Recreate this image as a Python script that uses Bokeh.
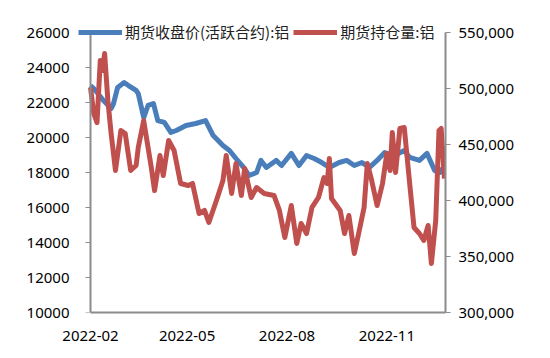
from datetime import datetime
from bokeh.plotting import figure
from bokeh.models import (Range1d, LinearAxis, FixedTicker, NumeralTickFormatter,
                          DatetimeTickFormatter, Legend, LegendItem, ColumnDataSource)
from bokeh.embed import file_html
from bokeh.resources import INLINE

price_dates = ["2022-02-01", "2022-02-04", "2022-02-07", "2022-02-13", "2022-02-20", "2022-02-22",
               "2022-02-26", "2022-03-04", "2022-03-08", "2022-03-15", "2022-03-17", "2022-03-22",
               "2022-03-26", "2022-03-31", "2022-04-04", "2022-04-10", "2022-04-16", "2022-04-21",
               "2022-04-30", "2022-05-09", "2022-05-18", "2022-05-25", "2022-06-03", "2022-06-09",
               "2022-06-15", "2022-06-22", "2022-06-27", "2022-07-04", "2022-07-08", "2022-07-13",
               "2022-07-22", "2022-07-27", "2022-08-05", "2022-08-12", "2022-08-19", "2022-08-26",
               "2022-09-02", "2022-09-09", "2022-09-18", "2022-09-25", "2022-10-02", "2022-10-09",
               "2022-10-16", "2022-10-23", "2022-10-30", "2022-11-08", "2022-11-17", "2022-11-22",
               "2022-12-01", "2022-12-08", "2022-12-15", "2022-12-20", "2022-12-23"]
price_vals = [22970, 22800, 22570, 22110, 21660, 21890,
              22860, 23140, 22970, 22690, 22510, 21140,
              21830, 21940, 20970, 20860, 20290, 20400,
              20690, 20800, 20970, 20110, 19540, 19260,
              18800, 18290, 17830, 18000, 18690, 18290,
              18690, 18400, 19090, 18400, 18970, 18800,
              18570, 18290, 18570, 18690, 18400, 18570,
              18290, 18690, 19140, 18970, 19260, 18860,
              18690, 19090, 18110, 18000, 18290]

oi_dates = ["2022-02-01", "2022-02-04", "2022-02-07", "2022-02-10", "2022-02-12", "2022-02-14",
            "2022-02-17", "2022-02-20", "2022-02-24", "2022-03-01", "2022-03-05", "2022-03-10",
            "2022-03-15", "2022-03-17", "2022-03-22", "2022-03-29", "2022-04-01", "2022-04-06",
            "2022-04-09", "2022-04-14", "2022-04-19", "2022-04-25", "2022-05-02", "2022-05-06",
            "2022-05-12", "2022-05-17", "2022-05-21", "2022-05-28", "2022-06-03", "2022-06-06",
            "2022-06-11", "2022-06-15", "2022-06-20", "2022-06-23", "2022-06-29", "2022-07-04",
            "2022-07-11", "2022-07-20", "2022-07-25", "2022-07-30", "2022-08-05", "2022-08-10",
            "2022-08-14", "2022-08-19", "2022-08-24", "2022-08-30", "2022-09-04", "2022-09-07",
            "2022-09-09", "2022-09-11", "2022-09-19", "2022-09-23", "2022-09-27", "2022-10-02",
            "2022-10-06", "2022-10-11", "2022-10-14", "2022-10-18", "2022-10-23", "2022-10-28",
            "2022-11-01", "2022-11-04", "2022-11-06", "2022-11-09", "2022-11-13", "2022-11-17",
            "2022-11-22", "2022-11-26", "2022-12-01", "2022-12-05", "2022-12-09", "2022-12-12",
            "2022-12-16", "2022-12-19", "2022-12-21", "2022-12-24"]
oi_vals = [500900, 477700, 469600, 525000, 516000, 531300,
           489300, 459800, 426800, 462500, 459800, 426800,
           431300, 447300, 471400, 429500, 408900, 440200,
           422300, 453600, 444600, 415200, 413400, 415200,
           388400, 391100, 380400, 400000, 417900, 440200,
           406300, 433000, 404500, 428600, 402700, 411600,
           406300, 404500, 391100, 367000, 395500, 361600,
           379500, 370500, 393800, 402700, 420500, 415200,
           437500, 401800, 391100, 370500, 386600, 352700,
           370500, 393800, 433000, 417900, 395500, 415200,
           442000, 426800, 460700, 425000, 464300, 465200,
           415200, 375900, 370500, 364300, 377700, 343800,
           382100, 462500, 464300, 419600]

left_ticks = [10000, 12000, 14000, 16000, 18000, 20000, 22000, 24000, 26000]
right_ticks = [300000, 350000, 400000, 450000, 500000, 550000]
x_tick_dates = ["2022-02-01", "2022-05-01", "2022-08-01", "2022-11-01"]
x_start, x_end = "2022-02-01", "2022-12-25"
labels = ["期货收盘价(活跃合约):铝", "期货持仓量:铝"]

def to_dt(s):
    return datetime.strptime(s, "%Y-%m-%d")

def to_ms(s):
    return (to_dt(s) - datetime(1970, 1, 1)).total_seconds() * 1000.0

# layout in pixels
W, H = 548, 356
axis_left_px, axis_right_px = 90, 445
axis_top_px, axis_bottom_px = 32, 312
frame_left_px, frame_top_px = 70, 14

# extend ranges so that the legend fits inside the frame; axes are bounded to the data extent
x0, x1 = to_ms(x_start), to_ms(x_end)
ms_per_px = (x1 - x0) / (axis_right_px - axis_left_px)
xr = Range1d(x0 - (axis_left_px - frame_left_px) * ms_per_px, x1)
ly_per_px = (left_ticks[-1] - left_ticks[0]) / (axis_bottom_px - axis_top_px)
ry_per_px = (right_ticks[-1] - right_ticks[0]) / (axis_bottom_px - axis_top_px)
extra_px = axis_top_px - frame_top_px
yr = Range1d(left_ticks[0], left_ticks[-1] + extra_px * ly_per_px)
yr2 = Range1d(right_ticks[0], right_ticks[-1] + extra_px * ry_per_px)

p = figure(width=W, height=H, output_backend="svg", toolbar_location=None,
           x_axis_type="datetime", x_range=xr, y_range=yr,
           min_border_left=frame_left_px, min_border_right=W - axis_right_px,
           min_border_top=frame_top_px, min_border_bottom=H - axis_bottom_px)
p.extra_y_ranges = {"oi": yr2}
p.xgrid.visible = False
p.ygrid.visible = False
p.outline_line_color = None

src1 = ColumnDataSource(dict(x=[to_dt(d) for d in price_dates], y=price_vals))
src2 = ColumnDataSource(dict(x=[to_dt(d) for d in oi_dates], y=oi_vals))
r1 = p.line("x", "y", source=src1, line_color="#4A7EBB", line_width=5, line_join="round")
r2 = p.line("x", "y", source=src2, line_color="#C0504D", line_width=5, line_join="round",
            y_range_name="oi")

axis_color = "#8C8C8C"
tick_font = "Noto Sans"

xa = p.xaxis[0]
xa.ticker = FixedTicker(ticks=[to_ms(d) for d in x_tick_dates])
xa.formatter = DatetimeTickFormatter(months="%Y-%m", days="%Y-%m", years="%Y-%m")
xa.bounds = (x0, x1)
xa.major_tick_line_color = None
xa.minor_tick_line_color = None
xa.axis_line_color = axis_color
xa.axis_line_width = 2
xa.major_label_text_font = tick_font
xa.major_label_text_font_size = "15px"
xa.major_label_text_color = "#000000"
xa.major_label_standoff = 12

# left axis labels (at the frame edge)
ya = p.yaxis[0]
ya.ticker = FixedTicker(ticks=left_ticks)
ya.minor_tick_line_color = None
ya.axis_line_color = None
ya.major_tick_line_color = None
ya.major_tick_out = 0
ya.major_tick_in = 0
ya.major_label_text_font = tick_font
ya.major_label_text_font_size = "15px"
ya.major_label_text_color = "#000000"
ya.major_label_standoff = 1

# left axis line and ticks (at the first date)
ya2 = LinearAxis(ticker=FixedTicker(ticks=left_ticks), fixed_location=x0,
                 bounds=(left_ticks[0], left_ticks[-1]))
ya2.minor_tick_line_color = None
ya2.axis_line_color = axis_color
ya2.axis_line_width = 2
ya2.major_tick_line_color = axis_color
ya2.major_tick_out = 5
ya2.major_tick_in = 0
ya2.major_label_text_alpha = 0
ya2.major_label_text_font_size = "1px"
p.add_layout(ya2, "left")

ra = LinearAxis(y_range_name="oi", ticker=FixedTicker(ticks=right_ticks),
                formatter=NumeralTickFormatter(format="0,0"),
                bounds=(right_ticks[0], right_ticks[-1]))
ra.minor_tick_line_color = None
ra.axis_line_color = axis_color
ra.axis_line_width = 2
ra.major_tick_line_color = axis_color
ra.major_tick_out = 5
ra.major_tick_in = 0
ra.major_label_text_font = tick_font
ra.major_label_text_font_size = "15px"
ra.major_label_text_color = "#000000"
ra.major_label_standoff = 8
p.add_layout(ra, "right")

legend_h = 20
legend = Legend(items=[LegendItem(label=labels[0], renderers=[r1]),
                       LegendItem(label=labels[1], renderers=[r2])],
                orientation="horizontal",
                location=(78 - frame_left_px, axis_bottom_px - axis_top_px - legend_h // 2),
                glyph_width=44, glyph_height=legend_h, label_standoff=3, spacing=4,
                padding=0, margin=0, border_line_color=None, background_fill_alpha=0,
                label_text_font="Noto Sans CJK SC", label_text_font_size="15px",
                label_text_color="#222222")
p.add_layout(legend)

open("out.html", "w").write(file_html(p, INLINE))
